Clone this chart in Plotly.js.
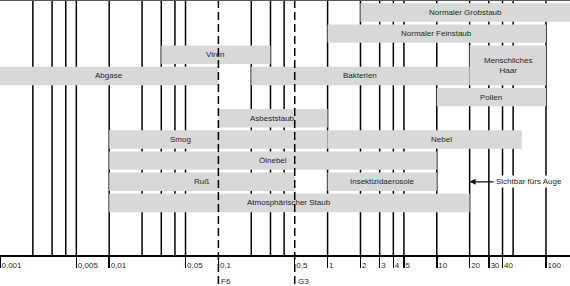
<!DOCTYPE html>
<html>
<head>
<meta charset="utf-8">
<script src="https://cdn.plot.ly/plotly-3.0.1.min.js"></script>
<style>
  html, body { margin: 0; padding: 0; background: #fff; }
  #chart { width: 570px; height: 286px; }
</style>
</head>
<body>
<div id="chart"></div>
<script>
// ---- data (particle sizes in µm) ----
const names = ['Normaler Grobstaub', 'Normaler Feinstaub', 'Viren', 'Menschliches<br>Haar', 'Abgase',
  'Bakterien', 'Pollen', 'Asbeststaub', 'Smog', 'Nebel', 'Ölnebel', 'Ruß', 'Insektizidaerosole',
  'Atmosphärischer Staub'];
const sizeFrom = [2, 1, 0.03, 20, 0.001, 0.2, 10, 0.1, 0.01, 1, 0.01, 0.01, 1, 0.01];
const sizeTo = [1000, 100, 0.3, 100, 0.1, 20, 100, 1, 1, 60, 10, 0.5, 10, 20];
const rowIndex = [1, 2, 3, 3, 4, 4, 5, 6, 7, 7, 8, 9, 9, 10];
const rowSpan = [1, 1, 1, 2, 1, 1, 1, 1, 1, 1, 1, 1, 1, 1];
const labelAt = [null, null, null, null, null, null, null, null, 0.045, 11, null, null, null, null];

const tickValues = [0.001, 0.005, 0.01, 0.05, 0.1, 0.5, 1, 2, 3, 4, 5, 10, 20, 30, 40, 100];
const tickLabels = ['0,001', '0,005', '0,01', '0,05', '0,1', '0,5', '1', '2', '3', '4', '5', '10', '20', '30', '40', '100'];
const gridValues = [0.002, 0.003, 0.004, 0.005, 0.01, 0.02, 0.03, 0.04, 0.05, 0.2, 0.3, 0.4,
  1, 2, 3, 4, 5, 10, 20, 30, 40, 50, 100];
const filterValues = [0.1, 0.5];
const filterLabels = ['F6', 'G3'];
const visibleLimit = 20;
const visibleText = 'Sichtbar fürs Auge';

// ---- build ----
const xRange = [-3, 2.22];
const barFrac = 0.87;
const yCenter = rowIndex.map((r, i) => r + (rowSpan[i] - 1) / 2);
const barWidth = rowSpan.map(s => (s - 1) + barFrac);
const xMax = Math.pow(10, xRange[1]);

const FONT = 'Liberation Sans, Arial, sans-serif';
const TXT = '#1e1e2a';

const trace = {
  type: 'bar',
  orientation: 'h',
  y: yCenter,
  base: sizeFrom,
  x: sizeTo.map((e, i) => e - sizeFrom[i]),
  width: barWidth,
  marker: { color: '#d8d8d8', line: { width: 0 } },
  hoverinfo: 'skip',
  showlegend: false
};

const annotations = names.map((n, i) => {
  const e = Math.min(sizeTo[i], xMax);
  const cx = labelAt[i] != null ? labelAt[i] : Math.sqrt(sizeFrom[i] * e);
  return {
    x: Math.log10(cx), y: yCenter[i], xref: 'x', yref: 'y',
    text: n, showarrow: false, xanchor: 'center', yanchor: 'middle',
    font: { family: FONT, size: 8, color: TXT }
  };
});

annotations.push({
  x: Math.log10(visibleLimit), y: 9, xref: 'x', yref: 'y',
  text: visibleText, showarrow: true, ax: 24, ay: 0, xanchor: 'left', yanchor: 'middle',
  arrowhead: 2, arrowsize: 1, arrowwidth: 1.2, arrowcolor: '#111',
  bgcolor: '#ffffff', borderpad: 1,
  font: { family: FONT, size: 8, color: TXT }
});

filterValues.forEach((v, i) => {
  annotations.push({
    x: Math.log10(v), y: 1 - 287 / 255, xref: 'x', yref: 'paper',
    text: filterLabels[i], showarrow: false, xanchor: 'left', yanchor: 'bottom', xshift: 2,
    borderpad: 0,
    font: { family: FONT, size: 8, color: TXT }
  });
});

const shapes = gridValues.map(v => ({
  type: 'line', xref: 'x', yref: 'paper', x0: v, x1: v, y0: 0, y1: 1,
  layer: 'below', line: { color: '#000', width: 1.5 }
}));
filterValues.forEach(v => shapes.push({
  type: 'line', xref: 'x', yref: 'paper', x0: v, x1: v, y0: 1, y1: -0.13,
  layer: 'above', line: { color: '#000', width: 1.5, dash: '8px,4px' }
}));
shapes.push({
  type: 'line', xref: 'paper', yref: 'paper', x0: 0, x1: 1, y0: 0.998, y1: 0.998,
  layer: 'above', line: { color: '#5a5a50', width: 1 }
});

const layout = {
  width: 570, height: 286,
  margin: { l: 0, r: 0, t: 0, b: 31 },
  paper_bgcolor: '#fff', plot_bgcolor: '#fff',
  barmode: 'overlay',
  showlegend: false,
  xaxis: {
    type: 'log', range: xRange, fixedrange: true,
    tickmode: 'array', tickvals: tickValues, ticktext: tickLabels,
    tickangle: 0,
    ticks: 'outside', ticklen: 11, tickwidth: 1.5, tickcolor: '#000',
    ticklabelposition: 'outside right',
    ticklabelstandoff: 2,
    tickfont: { family: FONT, size: 8, color: TXT },
    showline: true, linecolor: '#000', linewidth: 1.5,
    showgrid: false, zeroline: false
  },
  yaxis: {
    range: [12.46, 0.41], visible: false, fixedrange: true, showgrid: false, zeroline: false
  },
  annotations: annotations,
  shapes: shapes
};

Plotly.newPlot('chart', [trace], layout, { staticPlot: true, displayModeBar: false });
</script>
</body>
</html>
